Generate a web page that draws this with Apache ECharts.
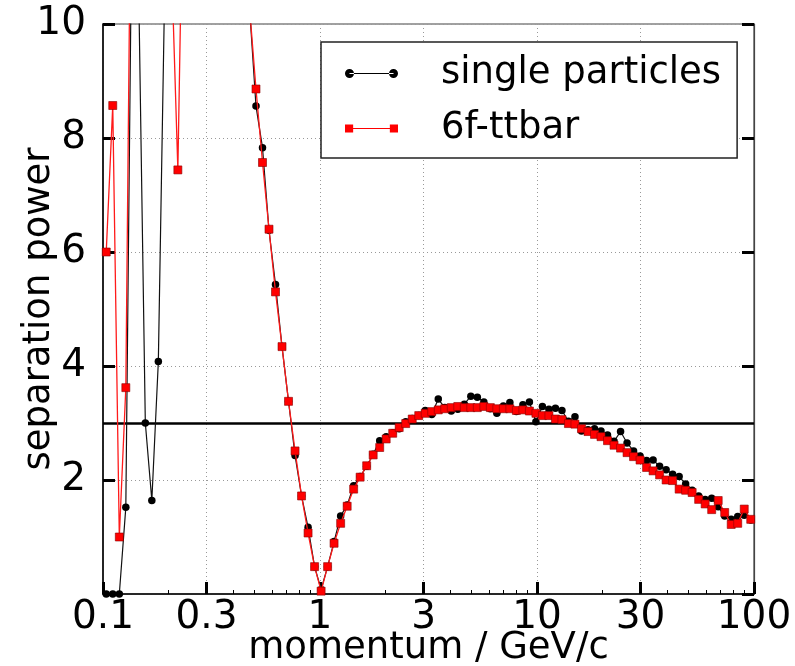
<!DOCTYPE html>
<html><head><meta charset="utf-8">
<script src="https://cdn.jsdelivr.net/npm/echarts@6/dist/echarts.min.js"></script>
<style>html,body{margin:0;padding:0;background:#fff}#c{width:795px;height:666px}</style>
</head><body><div id="c"></div>
<script>
// momentum bin centres (GeV/c)
const momentum = [
  0.1035, 0.1109, 0.1189, 0.1274, 0.1365, 0.1462, 0.1567, 0.1679, 0.1799, 0.1928,
  0.2065, 0.2213, 0.2371, 0.2541, 0.2723, 0.2917, 0.3126, 0.3350, 0.3589, 0.3846,
  0.4121, 0.4416, 0.4732, 0.5070, 0.5433, 0.5821, 0.6237, 0.6683, 0.7161, 0.7674,
  0.8222, 0.8811, 0.9441, 1.012, 1.084, 1.161, 1.245, 1.334, 1.429, 1.531,
  1.641, 1.758, 1.884, 2.018, 2.163, 2.317, 2.483, 2.661, 2.851, 3.055,
  3.273, 3.508, 3.758, 4.027, 4.315, 4.624, 4.955, 5.309, 5.689, 6.095,
  6.531, 6.998, 7.499, 8.035, 8.610, 9.226, 9.886, 10.59, 11.35, 12.16,
  13.03, 13.96, 14.96, 16.03, 17.18, 18.41, 19.72, 21.13, 22.65, 24.27,
  26.00, 27.86, 29.85, 31.99, 34.28, 36.73, 39.36, 42.17, 45.19, 48.42,
  51.88, 55.59, 59.57, 63.83, 68.39, 73.28, 78.52, 84.14, 90.16, 96.61
];
// separation power, single particles
const singleParticles = [
  0, 0, 0, 1.52, 12.8, 10.5, 3.00, 1.64, 4.08, 10.8,
  18, 27, 38, 50, 62, 70, 64, 50, 36, 24,
  16, 12.5, 10.3, 8.56, 7.83, 6.38, 5.43, 4.34, 3.38, 2.43,
  1.72, 1.17, 0.48, 0.08, 0.48, 0.92, 1.37, 1.56, 1.90, 2.06,
  2.24, 2.45, 2.69, 2.76, 2.83, 2.90, 3.02, 3.08, 3.13, 3.22,
  3.15, 3.42, 3.27, 3.21, 3.24, 3.33, 3.47, 3.45, 3.37, 3.25,
  3.17, 3.30, 3.36, 3.20, 3.32, 3.37, 3.02, 3.29, 3.24, 3.26,
  3.22, 3.03, 3.11, 2.86, 2.88, 2.90, 2.86, 2.79, 2.68, 2.85,
  2.65, 2.51, 2.42, 2.34, 2.35, 2.24, 2.18, 2.10, 2.06, 1.93,
  1.82, 1.72, 1.66, 1.68, 1.53, 1.37, 1.31, 1.36, 1.38, 1.30
];
// separation power, 6f-ttbar
const ttbar6f = [
  6.00, 8.57, 1.00, 3.62, 15.4, 28, 42, 55, 40, 25,
  11.15, 7.44, 14.1, 24, 38, 52, 60, 48, 34, 22,
  15, 12, 10.3, 8.86, 7.57, 6.40, 5.30, 4.34, 3.38, 2.51,
  1.72, 1.07, 0.48, 0.05, 0.48, 0.89, 1.24, 1.54, 1.84, 2.05,
  2.25, 2.44, 2.57, 2.72, 2.82, 2.92, 2.99, 3.07, 3.13, 3.17,
  3.20, 3.23, 3.25, 3.27, 3.29, 3.27, 3.27, 3.27, 3.29, 3.27,
  3.25, 3.25, 3.25, 3.22, 3.23, 3.21, 3.17, 3.13, 3.13, 3.07,
  3.06, 2.99, 2.98, 2.90, 2.85, 2.80, 2.76, 2.69, 2.61, 2.56,
  2.48, 2.41, 2.35, 2.22, 2.16, 2.09, 2.00, 1.99, 1.84, 1.82,
  1.78, 1.66, 1.58, 1.48, 1.64, 1.43, 1.22, 1.24, 1.49, 1.31
];
const xMajorTicks = [0.1, 0.3, 1, 3, 10, 30, 100];
const xMinorTicks = [0.2, 0.4, 0.5, 0.6, 0.7, 0.8, 0.9, 2, 4, 5, 6, 7, 8, 9, 20, 40, 50, 60, 70, 80, 90];
const thresholdValue = 3;
const seriesNames = ['single particles', '6f-ttbar'];

const FONT = 'DejaVu Sans';
const chart = echarts.init(document.getElementById('c'), null, {renderer: 'canvas'});
const blackIcon = 'path://M0,5a4.5,4.5 0 1,0 9,0a4.5,4.5 0 1,0 -9,0Z M44,5a4.5,4.5 0 1,0 9,0a4.5,4.5 0 1,0 -9,0Z M4.5,4.4H48.5V5.6H4.5Z';
const redIcon = 'path://M0.5,1H8.5V9H0.5Z M44.5,1H52.5V9H44.5Z M8.5,4.4H44.5V5.6H8.5Z';

chart.setOption({
  animation: false,
  backgroundColor: '#fff',
  grid: {left: 103, right: 41, top: 24, bottom: 72, outerBoundsMode: 'none', containLabel: false,
    show: true, borderColor: '#444', borderWidth: 1.2, backgroundColor: 'transparent'},
  legend: {
    left: 321, top: 42, orient: 'vertical',
    data: [{name: seriesNames[0], icon: blackIcon}, {name: seriesNames[1], icon: redIcon, itemStyle: {borderWidth: 0}}],
    backgroundColor: '#fff', borderColor: '#222', borderWidth: 1.5,
    padding: [13, 16, 11, 24], itemGap: 18, itemWidth: 53, itemHeight: 9,
    textStyle: {fontFamily: FONT, fontSize: 37, color: '#000', padding: [0, 0, 0, 38], lineHeight: 37},
    selectedMode: false
  },
  xAxis: [{
    type: 'log', logBase: 10, min: 0.1, max: 100, position: 'bottom',
    name: 'momentum / GeV/c', nameLocation: 'middle', nameGap: 36, nameMoveOverlap: false,
    nameTextStyle: {fontFamily: FONT, fontSize: 37, color: '#000', verticalAlign: 'top'},
    axisLine: {show: true, onZero: false, lineStyle: {color: '#000', width: 1.5}},
    axisTick: {show: true, inside: true, length: 12, customValues: xMajorTicks, lineStyle: {color: '#000', width: 3}},
    axisLabel: {customValues: xMajorTicks, fontFamily: FONT, fontSize: 39, color: '#000', margin: 4,
      formatter: v => String(+(+v).toPrecision(6))},
    splitLine: {show: true, lineStyle: {color: '#999', width: 1, type: [1, 3]}}
  }, {
    type: 'log', logBase: 10, min: 0.1, max: 100, position: 'bottom',
    axisLine: {show: false},
    axisTick: {show: true, inside: true, length: 4, customValues: xMinorTicks, lineStyle: {color: '#000', width: 1}},
    axisLabel: {show: false},
    splitLine: {show: false}
  }],
  yAxis: [{
    type: 'value', min: 0, max: 10, interval: 2, position: 'left',
    name: 'separation power', nameLocation: 'middle', nameGap: 45, nameMoveOverlap: false,
    nameTextStyle: {fontFamily: FONT, fontSize: 37, color: '#000'},
    axisLine: {show: true, onZero: false, lineStyle: {color: '#000', width: 1.5}},
    axisTick: {show: true, inside: true, length: 12, lineStyle: {color: '#000', width: 3}},
    axisLabel: {fontFamily: FONT, fontSize: 39, color: '#000', margin: 17,
      formatter: v => (v === 0 ? '' : String(v))},
    splitLine: {show: true, lineStyle: {color: '#999', width: 1, type: [1, 3]}}
  }, {
    type: 'value', min: 0, max: 10, interval: 2, position: 'right',
    axisLine: {show: true, lineStyle: {color: '#444', width: 1.2}},
    axisTick: {show: true, inside: true, length: 12, lineStyle: {color: '#000', width: 3}},
    axisLabel: {show: false},
    splitLine: {show: false}
  }],
  series: [{
    name: seriesNames[0], type: 'line', xAxisIndex: 0, yAxisIndex: 0,
    data: momentum.map((m, i) => [m, singleParticles[i]]),
    symbol: 'circle', symbolSize: 7.5, showAllSymbol: true, clip: true, z: 3,
    itemStyle: {color: '#000'},
    lineStyle: {color: '#111', width: 1.2},
    emphasis: {disabled: true},
    markLine: {
      silent: true, symbol: 'none', z: 2, animation: false,
      label: {show: false},
      lineStyle: {color: '#000', width: 2.5, type: 'solid'},
      data: [{yAxis: thresholdValue}]
    }
  }, {
    name: seriesNames[1], type: 'line', xAxisIndex: 0, yAxisIndex: 0,
    data: momentum.map((m, i) => [m, ttbar6f[i]]),
    symbol: 'rect', symbolSize: 8, showAllSymbol: true, clip: true, z: 4,
    itemStyle: {color: '#ff0000', borderColor: '#8a0000', borderWidth: 0.6},
    lineStyle: {color: '#ff1a1a', width: 1.3},
    emphasis: {disabled: true}
  }]
});
</script>
</body></html>
